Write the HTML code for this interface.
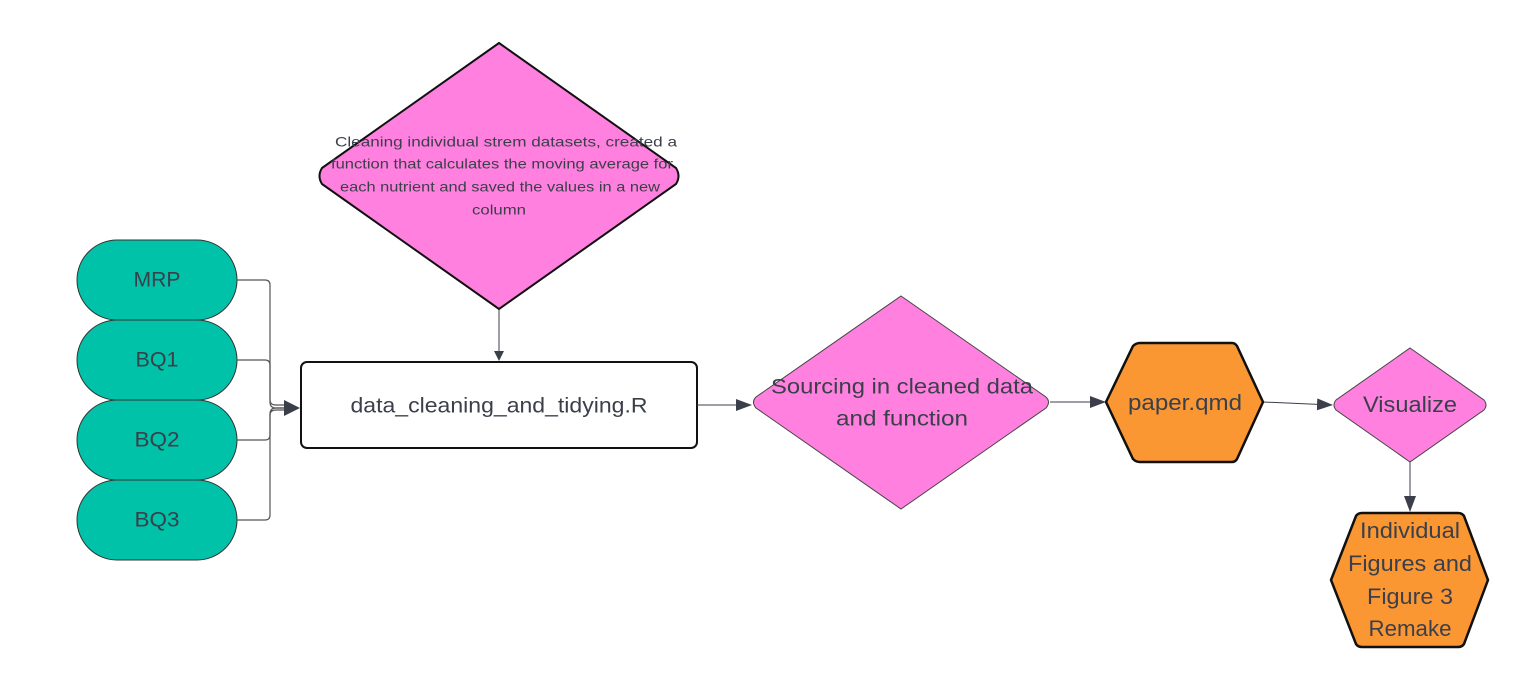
<!DOCTYPE html>
<html><head><meta charset="utf-8"><style>
body{margin:0;background:#fff;}
svg{display:block;font-family:"Liberation Sans",sans-serif;}
text{fill:#3a3f4a;text-anchor:middle;dominant-baseline:middle;}
</style></head><body>
<svg width="1530" height="689" viewBox="0 0 1530 689">
<defs><marker id="a" markerWidth="10" markerHeight="10" refX="9" refY="5" orient="auto" markerUnits="userSpaceOnUse"><path d="M0,0 L10,5 L0,10 Z" fill="#3a3f4a"/></marker>
<marker id="b" markerWidth="16" markerHeight="12" refX="15" refY="6" orient="auto" markerUnits="userSpaceOnUse"><path d="M0,0 L16,6 L0,12 Z" fill="#3a3f4a"/></marker></defs>
<g fill="#00c2a8" stroke="#333" stroke-width="1">
<rect x="77" y="240" width="160" height="80" rx="40"/>
<rect x="77" y="320" width="160" height="80" rx="40"/>
<rect x="77" y="400" width="160" height="80" rx="40"/>
<rect x="77" y="480" width="160" height="80" rx="40"/>
</g>
<g font-size="21"><text x="157" y="281" textLength="47" lengthAdjust="spacingAndGlyphs">MRP</text><text x="157" y="361" textLength="43" lengthAdjust="spacingAndGlyphs">BQ1</text><text x="157" y="441" textLength="45" lengthAdjust="spacingAndGlyphs">BQ2</text><text x="157" y="521" textLength="45" lengthAdjust="spacingAndGlyphs">BQ3</text></g>
<g fill="none" stroke="#555" stroke-width="1.2">
<path d="M237,280 H265 Q270,280 270,285 V400 Q270,405 276,405 H285"/>
<path d="M237,360 H265 Q270,360 270,365 V402 Q270,408 276,408 H285"/>
<path d="M237,440 H265 Q270,440 270,435 V414 Q270,408 276,408 H285"/>
<path d="M237,520 H265 Q270,520 270,515 V415 Q270,410 276,410 H285"/>
</g>
<path d="M284,400 L300,408 L284,416 Z" fill="#3a3f4a"/>
<rect x="301" y="362" width="396" height="86" rx="6" fill="#fff" stroke="#111" stroke-width="2"/>
<text x="499" y="407" font-size="21" textLength="297" lengthAdjust="spacingAndGlyphs">data_cleaning_and_tidying.R</text>
<path d="M499,43 L676,168 Q681,176 676,184 L499,309 L322,184 Q317,176 322,168 Z" fill="#ff80df" stroke="#111" stroke-width="2"/>
<g font-size="14"><text x="506" y="143" textLength="342" lengthAdjust="spacingAndGlyphs">Cleaning individual strem datasets, created a</text><text x="502" y="165" textLength="342" lengthAdjust="spacingAndGlyphs">function that calculates the moving average for</text><text x="500" y="188" textLength="320" lengthAdjust="spacingAndGlyphs">each nutrient and saved the values in a new</text><text x="499" y="211" textLength="54" lengthAdjust="spacingAndGlyphs">column</text></g>
<g stroke="#3a3f4a" stroke-width="1" fill="none">
<line x1="499" y1="310" x2="499" y2="360" marker-end="url(#a)"/>
<line x1="697" y1="405" x2="751" y2="405" marker-end="url(#b)"/>
<line x1="1050" y1="402" x2="1105" y2="402" marker-end="url(#b)"/>
<line x1="1263" y1="402" x2="1332" y2="405" marker-end="url(#b)"/>
<line x1="1410" y1="462" x2="1410" y2="511" marker-end="url(#b)"/>
</g>
<path d="M901,296 L1046,397 Q1051,402 1046,408 L901,509 L756,408 Q751,402 756,397 Z" fill="#ff80df" stroke="#444" stroke-width="1"/>
<g font-size="21"><text x="902" y="388" textLength="262" lengthAdjust="spacingAndGlyphs">Sourcing in cleaned data</text><text x="902" y="420" textLength="132" lengthAdjust="spacingAndGlyphs">and function</text></g>
<path d="M1106,402 L1133,346 Q1136,343 1140,343 L1232,343 Q1235,343 1237,346 L1263,402 L1237,459 Q1235,462 1232,462 L1140,462 Q1136,462 1133,459 Z" fill="#fb9733" stroke="#111" stroke-width="2.5"/>
<text x="1185" y="404" font-size="22" textLength="114" lengthAdjust="spacingAndGlyphs">paper.qmd</text>
<path d="M1410,348 L1484,400 Q1488,405 1484,410 L1410,462 L1336,410 Q1332,405 1336,400 Z" fill="#ff80df" stroke="#444" stroke-width="1"/>
<text x="1410" y="406" font-size="22" textLength="94" lengthAdjust="spacingAndGlyphs">Visualize</text>
<path d="M1331,580 L1356,516 Q1358,513 1362,513 L1458,513 Q1462,513 1464,516 L1488,580 L1464,644 Q1462,647 1458,647 L1362,647 Q1358,647 1356,644 Z" fill="#fb9733" stroke="#111" stroke-width="2.5"/>
<g font-size="22"><text x="1410" y="532" textLength="100" lengthAdjust="spacingAndGlyphs">Individual</text><text x="1410" y="565" textLength="124" lengthAdjust="spacingAndGlyphs">Figures and</text><text x="1410" y="598" textLength="86" lengthAdjust="spacingAndGlyphs">Figure 3</text><text x="1410" y="630" textLength="83" lengthAdjust="spacingAndGlyphs">Remake</text></g>
</svg>
</body></html>
